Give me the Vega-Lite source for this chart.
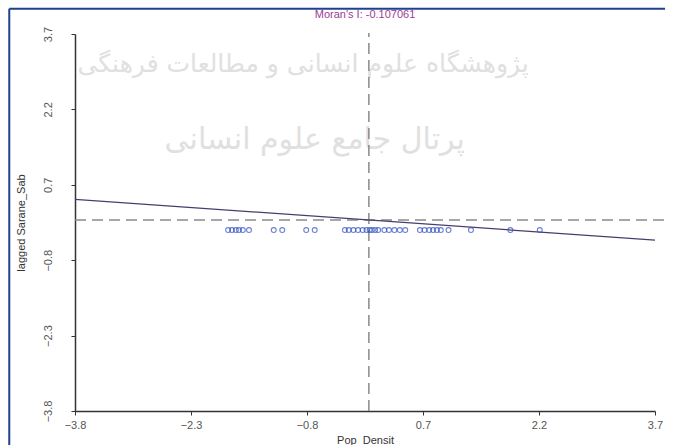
{
  "$schema": "https://vega.github.io/schema/vega-lite/v6.json",
  "autosize": "none",
  "width": 580,
  "height": 377,
  "padding": {"left": 75, "top": 34, "right": 19, "bottom": 34},
  "background": "white",
  "config": {
    "view": {"stroke": null},
    "axis": {"grid": false, "domainColor": "#333", "domainWidth": 1.5, "tickColor": "#333", "tickSize": 4, "labelColor": "#555", "labelFont": "Liberation Sans", "labelFontSize": 11, "titleFont": "Liberation Sans", "titleFontWeight": "normal", "titleColor": "#333", "titleFontSize": 11}
  },
  "title": {"text": "Moran's I: -0.107061", "color": "#9a3d96", "font": "Liberation Sans", "fontSize": 11, "fontWeight": "normal", "offset": -12, "anchor": "middle"},
  "datasets": {
    "pts": [
      {"x": -1.82, "y": -0.2}, {"x": -1.77, "y": -0.2}, {"x": -1.72, "y": -0.2}, {"x": -1.68, "y": -0.2}, {"x": -1.63, "y": -0.2}, {"x": -1.55, "y": -0.2},
      {"x": -1.23, "y": -0.2}, {"x": -1.12, "y": -0.2}, {"x": -0.81, "y": -0.2}, {"x": -0.70, "y": -0.2},
      {"x": -0.31, "y": -0.2}, {"x": -0.26, "y": -0.2}, {"x": -0.2, "y": -0.2}, {"x": -0.14, "y": -0.2}, {"x": -0.08, "y": -0.2}, {"x": -0.03, "y": -0.2},
      {"x": 0.01, "y": -0.2}, {"x": 0.04, "y": -0.2}, {"x": 0.08, "y": -0.2}, {"x": 0.12, "y": -0.2}, {"x": 0.2, "y": -0.2}, {"x": 0.26, "y": -0.2},
      {"x": 0.33, "y": -0.2}, {"x": 0.40, "y": -0.2}, {"x": 0.47, "y": -0.2}, {"x": 0.66, "y": -0.2}, {"x": 0.72, "y": -0.2}, {"x": 0.78, "y": -0.2},
      {"x": 0.83, "y": -0.2}, {"x": 0.88, "y": -0.2}, {"x": 0.93, "y": -0.2}, {"x": 1.03, "y": -0.2}, {"x": 1.32, "y": -0.2}, {"x": 1.83, "y": -0.2}, {"x": 2.21, "y": -0.2}
    ],
    "fit": [{"x": -3.8, "y": 0.41}, {"x": 3.7, "y": -0.40}],
    "hline": [{"x": -3.8, "y": 0}, {"x": 3.84, "y": 0}],
    "vline": [{"x": 0, "y": -3.8}, {"x": 0, "y": 3.72}],
    "mark": [
      {"x": -0.85, "y": 3.1, "t": "پژوهشگاه علوم انسانی و مطالعات فرهنگی", "s": 25},
      {"x": -0.7, "y": 1.6, "t": "پرتال جامع علوم انسانی", "s": 30}
    ],
    "frameTop": [{"x": -4.65, "x2": 3.83, "y": 4.2}],
    "frameLeft": [{"x": -4.65, "y": 4.2, "y2": -4.5}]
  },
  "encoding": {
    "x": {"field": "x", "type": "quantitative", "scale": {"domain": [-3.8, 3.7], "nice": false, "zero": false}},
    "y": {"field": "y", "type": "quantitative", "scale": {"domain": [-3.8, 3.7], "nice": false, "zero": false}}
  },
  "layer": [
    {
      "data": {"name": "mark"},
      "mark": {"type": "text", "color": "#e0e0e0", "font": "DejaVu Sans", "clip": false},
      "encoding": {
        "text": {"field": "t"},
        "size": {"field": "s", "type": "quantitative", "scale": null}
      }
    },
    {
      "data": {"name": "frameTop"},
      "mark": {"type": "rule", "color": "#1f3f8f", "strokeWidth": 2, "clip": false},
      "encoding": {
        "x2": {"field": "x2"}
      }
    },
    {
      "data": {"name": "frameLeft"},
      "mark": {"type": "rule", "color": "#1f3f8f", "strokeWidth": 2, "clip": false},
      "encoding": {
        "y2": {"field": "y2"}
      }
    },
    {
      "data": {"name": "hline"},
      "mark": {"type": "line", "color": "#8a8a8a", "strokeWidth": 1.5, "strokeDash": [11, 6], "clip": false},
      "encoding": {}
    },
    {
      "data": {"name": "vline"},
      "mark": {"type": "line", "color": "#8a8a8a", "strokeWidth": 1.5, "strokeDash": [11, 6]},
      "encoding": {}
    },
    {
      "data": {"name": "fit"},
      "mark": {"type": "line", "color": "#4b3b6e", "strokeWidth": 1.2},
      "encoding": {}
    },
    {
      "data": {"name": "pts"},
      "mark": {"type": "point", "shape": "circle", "filled": false, "color": "#2f4fc0", "size": 24, "strokeWidth": 1.1},
      "encoding": {
        "x": {"field": "x", "type": "quantitative", "title": "Pop_Densit", "scale": {"domain": [-3.8, 3.7], "nice": false, "zero": false},
          "axis": {"values": [-3.8, -2.3, -0.8, 0.7, 2.2, 3.7], "format": ".1f", "labelPadding": 4, "titlePadding": 4, "labelFlush": false}},
        "y": {"field": "y", "type": "quantitative", "title": "lagged Sarane_Sab", "scale": {"domain": [-3.8, 3.7], "nice": false, "zero": false},
          "axis": {"values": [-3.8, -2.3, -0.8, 0.7, 2.2, 3.7], "format": ".1f", "labelAngle": -90, "labelAlign": "center", "labelBaseline": "bottom", "labelPadding": 18, "titlePadding": 16, "labelFlush": false}}
      }
    }
  ]
}
